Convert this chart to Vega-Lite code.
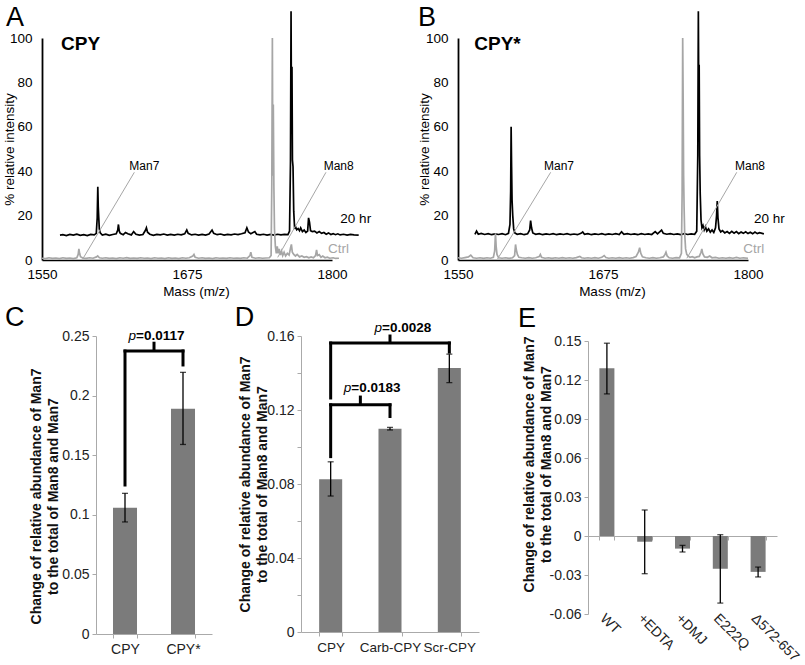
{
"$schema":"https://vega.github.io/schema/vega-lite/v6.json",
"background":"white",
"padding":{"left":2,"top":3,"right":5,"bottom":5},
"config":{"font":"Liberation Sans","view":{"stroke":null},"axis":{"grid":false,"labelOverlap":false,"labelFont":"Liberation Sans","titleFont":"Liberation Sans"},"text":{"font":"Liberation Sans"}},
"datasets":{
"one":[{}],
"specA":[
{"s":"20 hr","m":1565.5,"v":11.2},{"s":"20 hr","m":1568,"v":11.4},{"s":"20 hr","m":1571,"v":11.0},{"s":"20 hr","m":1574,"v":11.5},{"s":"20 hr","m":1577,"v":11.2},{"s":"20 hr","m":1580,"v":11.6},{"s":"20 hr","m":1583,"v":11.1},{"s":"20 hr","m":1586,"v":11.4},{"s":"20 hr","m":1589,"v":11.0},{"s":"20 hr","m":1592,"v":11.5},{"s":"20 hr","m":1595,"v":11.3},{"s":"20 hr","m":1596.8,"v":12.0},{"s":"20 hr","m":1597.6,"v":19.0},{"s":"20 hr","m":1598.1,"v":33.0},{"s":"20 hr","m":1598.5,"v":24.0},{"s":"20 hr","m":1598.9,"v":19.5},{"s":"20 hr","m":1599.4,"v":14.0},{"s":"20 hr","m":1600.2,"v":12.2},{"s":"20 hr","m":1602,"v":11.2},{"s":"20 hr","m":1605,"v":11.6},{"s":"20 hr","m":1608,"v":11.1},{"s":"20 hr","m":1611,"v":11.5},{"s":"20 hr","m":1614,"v":11.8},{"s":"20 hr","m":1615.3,"v":13.5},{"s":"20 hr","m":1615.9,"v":16.0},{"s":"20 hr","m":1616.6,"v":13.0},{"s":"20 hr","m":1617.5,"v":12.0},{"s":"20 hr","m":1620,"v":11.4},{"s":"20 hr","m":1622,"v":12.4},{"s":"20 hr","m":1624,"v":11.8},{"s":"20 hr","m":1627,"v":11.3},{"s":"20 hr","m":1629,"v":12.8},{"s":"20 hr","m":1631,"v":11.6},{"s":"20 hr","m":1634,"v":11.2},{"s":"20 hr","m":1637,"v":11.5},{"s":"20 hr","m":1639.3,"v":13.5},{"s":"20 hr","m":1640,"v":14.5},{"s":"20 hr","m":1641,"v":12.5},{"s":"20 hr","m":1643,"v":11.6},{"s":"20 hr","m":1646,"v":11.1},{"s":"20 hr","m":1649,"v":11.5},{"s":"20 hr","m":1652,"v":11.3},{"s":"20 hr","m":1655,"v":11.7},{"s":"20 hr","m":1658,"v":11.2},{"s":"20 hr","m":1661,"v":11.5},{"s":"20 hr","m":1664,"v":11.2},{"s":"20 hr","m":1667,"v":11.6},{"s":"20 hr","m":1670,"v":11.3},{"s":"20 hr","m":1673,"v":11.8},{"s":"20 hr","m":1674.8,"v":13.5},{"s":"20 hr","m":1676,"v":12.0},{"s":"20 hr","m":1679,"v":11.3},{"s":"20 hr","m":1682,"v":11.6},{"s":"20 hr","m":1685,"v":11.2},{"s":"20 hr","m":1688,"v":11.5},{"s":"20 hr","m":1691,"v":11.2},{"s":"20 hr","m":1694,"v":11.7},{"s":"20 hr","m":1696.6,"v":13.5},{"s":"20 hr","m":1698,"v":12.0},{"s":"20 hr","m":1701,"v":11.4},{"s":"20 hr","m":1704,"v":11.7},{"s":"20 hr","m":1707,"v":11.2},{"s":"20 hr","m":1710,"v":11.5},{"s":"20 hr","m":1713,"v":11.3},{"s":"20 hr","m":1716,"v":11.7},{"s":"20 hr","m":1719,"v":11.4},{"s":"20 hr","m":1722,"v":11.8},{"s":"20 hr","m":1725,"v":12.3},{"s":"20 hr","m":1726.6,"v":14.5},{"s":"20 hr","m":1728,"v":12.6},{"s":"20 hr","m":1730,"v":11.8},{"s":"20 hr","m":1733.5,"v":12.8},{"s":"20 hr","m":1735,"v":11.6},{"s":"20 hr","m":1738,"v":11.3},{"s":"20 hr","m":1741,"v":11.6},{"s":"20 hr","m":1744,"v":11.2},{"s":"20 hr","m":1747,"v":11.5},{"s":"20 hr","m":1750,"v":11.2},{"s":"20 hr","m":1753,"v":11.6},{"s":"20 hr","m":1756,"v":11.3},{"s":"20 hr","m":1759,"v":11.5},{"s":"20 hr","m":1762,"v":11.4},{"s":"20 hr","m":1763.4,"v":13.0},{"s":"20 hr","m":1764.2,"v":44.0},{"s":"20 hr","m":1764.7,"v":112.0},{"s":"20 hr","m":1765.1,"v":60.0},{"s":"20 hr","m":1765.5,"v":87.0},{"s":"20 hr","m":1765.9,"v":45.0},{"s":"20 hr","m":1766.4,"v":42.0},{"s":"20 hr","m":1767.0,"v":22.0},{"s":"20 hr","m":1767.8,"v":14.0},{"s":"20 hr","m":1768.6,"v":15.0},{"s":"20 hr","m":1769.6,"v":13.6},{"s":"20 hr","m":1770.8,"v":14.2},{"s":"20 hr","m":1772,"v":13.2},{"s":"20 hr","m":1773,"v":14.5},{"s":"20 hr","m":1774.5,"v":12.8},{"s":"20 hr","m":1776,"v":13.5},{"s":"20 hr","m":1777.5,"v":12.4},{"s":"20 hr","m":1779,"v":13.0},{"s":"20 hr","m":1779.8,"v":19.0},{"s":"20 hr","m":1780.6,"v":17.0},{"s":"20 hr","m":1781.5,"v":13.2},{"s":"20 hr","m":1783,"v":12.8},{"s":"20 hr","m":1785,"v":13.0},{"s":"20 hr","m":1787,"v":12.2},{"s":"20 hr","m":1789,"v":12.8},{"s":"20 hr","m":1791,"v":12.0},{"s":"20 hr","m":1793,"v":12.4},{"s":"20 hr","m":1795,"v":11.6},{"s":"20 hr","m":1797,"v":12.2},{"s":"20 hr","m":1799,"v":11.5},{"s":"20 hr","m":1801,"v":11.9},{"s":"20 hr","m":1803,"v":11.4},{"s":"20 hr","m":1805,"v":11.8},{"s":"20 hr","m":1807,"v":11.3},{"s":"20 hr","m":1810,"v":11.6},{"s":"20 hr","m":1813,"v":11.2},{"s":"20 hr","m":1816,"v":11.5},{"s":"20 hr","m":1819,"v":11.3},{"s":"20 hr","m":1823,"v":11.2},
{"s":"Ctrl","m":1550,"v":0.8},{"s":"Ctrl","m":1553,"v":0.6},{"s":"Ctrl","m":1556,"v":1.0},{"s":"Ctrl","m":1559,"v":0.7},{"s":"Ctrl","m":1562,"v":0.9},{"s":"Ctrl","m":1565,"v":0.6},{"s":"Ctrl","m":1568,"v":1.0},{"s":"Ctrl","m":1571,"v":0.7},{"s":"Ctrl","m":1574,"v":0.9},{"s":"Ctrl","m":1577,"v":0.6},{"s":"Ctrl","m":1580,"v":1.0},{"s":"Ctrl","m":1581.2,"v":2.5},{"s":"Ctrl","m":1581.8,"v":5.0},{"s":"Ctrl","m":1582.4,"v":3.0},{"s":"Ctrl","m":1583.2,"v":1.5},{"s":"Ctrl","m":1585,"v":0.9},{"s":"Ctrl","m":1588,"v":0.7},{"s":"Ctrl","m":1591,"v":1.0},{"s":"Ctrl","m":1594,"v":0.8},{"s":"Ctrl","m":1597,"v":1.4},{"s":"Ctrl","m":1598,"v":1.8},{"s":"Ctrl","m":1599.5,"v":1.0},{"s":"Ctrl","m":1602,"v":0.8},{"s":"Ctrl","m":1605,"v":1.0},{"s":"Ctrl","m":1608,"v":0.7},{"s":"Ctrl","m":1611,"v":0.9},{"s":"Ctrl","m":1614,"v":0.6},{"s":"Ctrl","m":1617,"v":1.0},{"s":"Ctrl","m":1620,"v":0.8},{"s":"Ctrl","m":1623,"v":1.1},{"s":"Ctrl","m":1626,"v":0.7},{"s":"Ctrl","m":1629,"v":0.9},{"s":"Ctrl","m":1632,"v":0.7},{"s":"Ctrl","m":1635,"v":1.0},{"s":"Ctrl","m":1638,"v":0.8},{"s":"Ctrl","m":1641,"v":0.9},{"s":"Ctrl","m":1644,"v":0.6},{"s":"Ctrl","m":1647,"v":1.0},{"s":"Ctrl","m":1650,"v":0.8},{"s":"Ctrl","m":1653,"v":0.9},{"s":"Ctrl","m":1656,"v":0.6},{"s":"Ctrl","m":1659,"v":1.0},{"s":"Ctrl","m":1662,"v":0.7},{"s":"Ctrl","m":1665,"v":0.9},{"s":"Ctrl","m":1668,"v":0.6},{"s":"Ctrl","m":1671,"v":1.0},{"s":"Ctrl","m":1674,"v":0.8},{"s":"Ctrl","m":1677,"v":1.0},{"s":"Ctrl","m":1680,"v":1.8},{"s":"Ctrl","m":1681,"v":2.5},{"s":"Ctrl","m":1682,"v":1.2},{"s":"Ctrl","m":1685,"v":0.8},{"s":"Ctrl","m":1688,"v":1.0},{"s":"Ctrl","m":1691,"v":0.7},{"s":"Ctrl","m":1694,"v":0.9},{"s":"Ctrl","m":1697,"v":0.6},{"s":"Ctrl","m":1700,"v":1.0},{"s":"Ctrl","m":1703,"v":0.8},{"s":"Ctrl","m":1706,"v":0.9},{"s":"Ctrl","m":1709,"v":0.7},{"s":"Ctrl","m":1712,"v":1.0},{"s":"Ctrl","m":1715,"v":0.8},{"s":"Ctrl","m":1718,"v":0.9},{"s":"Ctrl","m":1721,"v":0.7},{"s":"Ctrl","m":1724,"v":1.0},{"s":"Ctrl","m":1727,"v":0.8},{"s":"Ctrl","m":1729.3,"v":2.0},{"s":"Ctrl","m":1730,"v":3.5},{"s":"Ctrl","m":1731,"v":1.2},{"s":"Ctrl","m":1734,"v":0.8},{"s":"Ctrl","m":1737,"v":1.0},{"s":"Ctrl","m":1740,"v":0.8},{"s":"Ctrl","m":1743,"v":0.9},{"s":"Ctrl","m":1746,"v":1.0},{"s":"Ctrl","m":1747.5,"v":2.0},{"s":"Ctrl","m":1748.1,"v":34.0},{"s":"Ctrl","m":1748.6,"v":100.0},{"s":"Ctrl","m":1749.0,"v":38.0},{"s":"Ctrl","m":1749.4,"v":70.0},{"s":"Ctrl","m":1749.9,"v":33.0},{"s":"Ctrl","m":1750.4,"v":14.0},{"s":"Ctrl","m":1751.2,"v":6.0},{"s":"Ctrl","m":1752,"v":3.0},{"s":"Ctrl","m":1752.8,"v":6.2},{"s":"Ctrl","m":1753.6,"v":3.0},{"s":"Ctrl","m":1754.5,"v":5.0},{"s":"Ctrl","m":1755.5,"v":2.2},{"s":"Ctrl","m":1756.5,"v":4.0},{"s":"Ctrl","m":1757.5,"v":2.0},{"s":"Ctrl","m":1758.7,"v":3.5},{"s":"Ctrl","m":1760,"v":1.8},{"s":"Ctrl","m":1761.5,"v":3.0},{"s":"Ctrl","m":1763,"v":2.2},{"s":"Ctrl","m":1764.3,"v":5.5},{"s":"Ctrl","m":1765,"v":7.0},{"s":"Ctrl","m":1765.8,"v":3.5},{"s":"Ctrl","m":1767,"v":2.5},{"s":"Ctrl","m":1768.5,"v":1.8},{"s":"Ctrl","m":1770,"v":2.5},{"s":"Ctrl","m":1772,"v":1.4},{"s":"Ctrl","m":1774,"v":1.8},{"s":"Ctrl","m":1776,"v":1.2},{"s":"Ctrl","m":1778,"v":1.5},{"s":"Ctrl","m":1780,"v":1.0},{"s":"Ctrl","m":1782,"v":1.4},{"s":"Ctrl","m":1784,"v":1.0},{"s":"Ctrl","m":1785.8,"v":2.0},{"s":"Ctrl","m":1786.7,"v":4.5},{"s":"Ctrl","m":1787.5,"v":2.0},{"s":"Ctrl","m":1789,"v":2.4},{"s":"Ctrl","m":1790.5,"v":1.2},{"s":"Ctrl","m":1792,"v":1.8},{"s":"Ctrl","m":1794,"v":1.0},{"s":"Ctrl","m":1796,"v":1.3},{"s":"Ctrl","m":1798,"v":0.8},{"s":"Ctrl","m":1801,"v":1.0},{"s":"Ctrl","m":1803,"v":0.7},{"s":"Ctrl","m":1806,"v":0.8}
],
"specB":[
{"s":"20 hr","m":1564.6,"v":11.5},{"s":"20 hr","m":1566,"v":13.0},{"s":"20 hr","m":1567.5,"v":11.6},{"s":"20 hr","m":1570,"v":12.0},{"s":"20 hr","m":1573,"v":11.5},{"s":"20 hr","m":1576,"v":11.9},{"s":"20 hr","m":1579,"v":11.4},{"s":"20 hr","m":1582,"v":11.8},{"s":"20 hr","m":1585,"v":11.5},{"s":"20 hr","m":1588,"v":11.9},{"s":"20 hr","m":1591,"v":11.4},{"s":"20 hr","m":1593.5,"v":12.0},{"s":"20 hr","m":1594.8,"v":16.0},{"s":"20 hr","m":1595.4,"v":31.0},{"s":"20 hr","m":1595.8,"v":60.0},{"s":"20 hr","m":1596.2,"v":42.0},{"s":"20 hr","m":1596.6,"v":27.0},{"s":"20 hr","m":1597.2,"v":20.0},{"s":"20 hr","m":1598,"v":14.0},{"s":"20 hr","m":1599,"v":12.2},{"s":"20 hr","m":1601,"v":11.6},{"s":"20 hr","m":1604,"v":11.9},{"s":"20 hr","m":1607,"v":11.4},{"s":"20 hr","m":1610,"v":11.8},{"s":"20 hr","m":1611.8,"v":13.5},{"s":"20 hr","m":1612.6,"v":17.7},{"s":"20 hr","m":1613.4,"v":14.5},{"s":"20 hr","m":1614.5,"v":12.2},{"s":"20 hr","m":1617,"v":11.6},{"s":"20 hr","m":1620,"v":11.9},{"s":"20 hr","m":1623,"v":11.4},{"s":"20 hr","m":1626,"v":11.8},{"s":"20 hr","m":1629,"v":11.5},{"s":"20 hr","m":1632,"v":11.9},{"s":"20 hr","m":1635,"v":11.4},{"s":"20 hr","m":1638,"v":11.8},{"s":"20 hr","m":1641,"v":11.5},{"s":"20 hr","m":1644,"v":11.9},{"s":"20 hr","m":1647,"v":11.4},{"s":"20 hr","m":1650,"v":11.7},{"s":"20 hr","m":1653,"v":11.4},{"s":"20 hr","m":1656,"v":12.0},{"s":"20 hr","m":1657.5,"v":12.6},{"s":"20 hr","m":1659,"v":11.6},{"s":"20 hr","m":1662,"v":11.9},{"s":"20 hr","m":1665,"v":11.4},{"s":"20 hr","m":1668,"v":11.8},{"s":"20 hr","m":1671,"v":11.5},{"s":"20 hr","m":1674,"v":11.9},{"s":"20 hr","m":1677,"v":11.4},{"s":"20 hr","m":1680,"v":11.8},{"s":"20 hr","m":1683,"v":11.5},{"s":"20 hr","m":1686,"v":11.9},{"s":"20 hr","m":1689,"v":11.5},{"s":"20 hr","m":1691,"v":12.7},{"s":"20 hr","m":1693,"v":11.6},{"s":"20 hr","m":1696,"v":11.9},{"s":"20 hr","m":1699,"v":11.5},{"s":"20 hr","m":1702,"v":11.8},{"s":"20 hr","m":1705,"v":11.4},{"s":"20 hr","m":1708,"v":11.9},{"s":"20 hr","m":1711,"v":11.5},{"s":"20 hr","m":1714,"v":11.8},{"s":"20 hr","m":1717,"v":11.5},{"s":"20 hr","m":1720,"v":12.8},{"s":"20 hr","m":1722,"v":11.8},{"s":"20 hr","m":1725.5,"v":13.5},{"s":"20 hr","m":1727,"v":12.0},{"s":"20 hr","m":1730,"v":11.6},{"s":"20 hr","m":1733,"v":11.9},{"s":"20 hr","m":1736,"v":11.5},{"s":"20 hr","m":1739,"v":11.8},{"s":"20 hr","m":1742,"v":11.4},{"s":"20 hr","m":1745,"v":11.9},{"s":"20 hr","m":1748,"v":11.5},{"s":"20 hr","m":1751,"v":11.8},{"s":"20 hr","m":1754,"v":11.6},{"s":"20 hr","m":1755.8,"v":13.0},{"s":"20 hr","m":1756.7,"v":47.0},{"s":"20 hr","m":1757.2,"v":112.0},{"s":"20 hr","m":1757.6,"v":70.0},{"s":"20 hr","m":1757.9,"v":88.0},{"s":"20 hr","m":1758.3,"v":47.0},{"s":"20 hr","m":1758.8,"v":30.0},{"s":"20 hr","m":1759.5,"v":18.0},{"s":"20 hr","m":1760.3,"v":14.5},{"s":"20 hr","m":1761.2,"v":15.5},{"s":"20 hr","m":1762.2,"v":13.5},{"s":"20 hr","m":1763.3,"v":15.0},{"s":"20 hr","m":1764.5,"v":13.0},{"s":"20 hr","m":1766,"v":14.0},{"s":"20 hr","m":1767.5,"v":12.5},{"s":"20 hr","m":1769,"v":13.5},{"s":"20 hr","m":1770.5,"v":12.4},{"s":"20 hr","m":1772,"v":14.5},{"s":"20 hr","m":1772.9,"v":20.0},{"s":"20 hr","m":1773.5,"v":26.6},{"s":"20 hr","m":1774.1,"v":19.0},{"s":"20 hr","m":1775,"v":14.0},{"s":"20 hr","m":1776.5,"v":12.6},{"s":"20 hr","m":1778,"v":13.2},{"s":"20 hr","m":1780,"v":12.2},{"s":"20 hr","m":1782,"v":12.8},{"s":"20 hr","m":1784,"v":12.0},{"s":"20 hr","m":1786,"v":12.9},{"s":"20 hr","m":1788,"v":12.1},{"s":"20 hr","m":1790,"v":12.8},{"s":"20 hr","m":1792,"v":11.9},{"s":"20 hr","m":1794,"v":12.6},{"s":"20 hr","m":1796,"v":12.0},{"s":"20 hr","m":1798,"v":12.7},{"s":"20 hr","m":1800,"v":11.9},{"s":"20 hr","m":1802,"v":12.5},{"s":"20 hr","m":1804,"v":11.8},{"s":"20 hr","m":1806,"v":12.6},{"s":"20 hr","m":1808,"v":11.9},{"s":"20 hr","m":1810,"v":12.3},{"s":"20 hr","m":1813.7,"v":11.8},
{"s":"Ctrl","m":1550,"v":1.0},{"s":"Ctrl","m":1553,"v":0.8},{"s":"Ctrl","m":1556,"v":1.1},{"s":"Ctrl","m":1559,"v":1.4},{"s":"Ctrl","m":1561,"v":2.2},{"s":"Ctrl","m":1563,"v":1.0},{"s":"Ctrl","m":1566,"v":0.8},{"s":"Ctrl","m":1569,"v":1.0},{"s":"Ctrl","m":1572,"v":0.7},{"s":"Ctrl","m":1575,"v":1.0},{"s":"Ctrl","m":1578,"v":0.8},{"s":"Ctrl","m":1580.5,"v":1.2},{"s":"Ctrl","m":1581.6,"v":4.0},{"s":"Ctrl","m":1582.3,"v":12.0},{"s":"Ctrl","m":1582.9,"v":6.0},{"s":"Ctrl","m":1583.6,"v":2.5},{"s":"Ctrl","m":1585,"v":1.0},{"s":"Ctrl","m":1588,"v":0.8},{"s":"Ctrl","m":1591,"v":1.0},{"s":"Ctrl","m":1594,"v":0.7},{"s":"Ctrl","m":1597,"v":1.0},{"s":"Ctrl","m":1598.8,"v":2.0},{"s":"Ctrl","m":1599.6,"v":7.0},{"s":"Ctrl","m":1600.3,"v":4.5},{"s":"Ctrl","m":1601.2,"v":2.5},{"s":"Ctrl","m":1602.5,"v":1.2},{"s":"Ctrl","m":1605,"v":1.0},{"s":"Ctrl","m":1608,"v":0.8},{"s":"Ctrl","m":1611,"v":1.1},{"s":"Ctrl","m":1614,"v":0.8},{"s":"Ctrl","m":1617,"v":1.0},{"s":"Ctrl","m":1620,"v":1.5},{"s":"Ctrl","m":1621,"v":2.5},{"s":"Ctrl","m":1622,"v":1.2},{"s":"Ctrl","m":1625,"v":0.8},{"s":"Ctrl","m":1628,"v":1.0},{"s":"Ctrl","m":1631,"v":0.7},{"s":"Ctrl","m":1634,"v":1.0},{"s":"Ctrl","m":1637,"v":0.8},{"s":"Ctrl","m":1640,"v":1.1},{"s":"Ctrl","m":1643,"v":0.8},{"s":"Ctrl","m":1646,"v":1.0},{"s":"Ctrl","m":1649,"v":0.8},{"s":"Ctrl","m":1652,"v":1.1},{"s":"Ctrl","m":1655,"v":1.6},{"s":"Ctrl","m":1656.5,"v":1.0},{"s":"Ctrl","m":1659,"v":0.8},{"s":"Ctrl","m":1662,"v":1.0},{"s":"Ctrl","m":1665,"v":0.8},{"s":"Ctrl","m":1668,"v":1.1},{"s":"Ctrl","m":1671,"v":0.8},{"s":"Ctrl","m":1674,"v":1.2},{"s":"Ctrl","m":1676,"v":2.0},{"s":"Ctrl","m":1677.5,"v":1.1},{"s":"Ctrl","m":1680,"v":0.8},{"s":"Ctrl","m":1683,"v":1.0},{"s":"Ctrl","m":1686,"v":0.8},{"s":"Ctrl","m":1689,"v":1.1},{"s":"Ctrl","m":1692,"v":0.8},{"s":"Ctrl","m":1695,"v":1.0},{"s":"Ctrl","m":1698,"v":0.8},{"s":"Ctrl","m":1701,"v":1.1},{"s":"Ctrl","m":1703.5,"v":1.6},{"s":"Ctrl","m":1705.5,"v":3.5},{"s":"Ctrl","m":1706.6,"v":5.5},{"s":"Ctrl","m":1707.6,"v":3.0},{"s":"Ctrl","m":1709,"v":1.4},{"s":"Ctrl","m":1712,"v":1.0},{"s":"Ctrl","m":1715,"v":0.8},{"s":"Ctrl","m":1718,"v":1.1},{"s":"Ctrl","m":1721,"v":0.8},{"s":"Ctrl","m":1724,"v":1.0},{"s":"Ctrl","m":1727,"v":1.4},{"s":"Ctrl","m":1728.5,"v":2.5},{"s":"Ctrl","m":1729.3,"v":3.5},{"s":"Ctrl","m":1730.3,"v":1.8},{"s":"Ctrl","m":1732,"v":1.0},{"s":"Ctrl","m":1735,"v":0.8},{"s":"Ctrl","m":1738,"v":1.1},{"s":"Ctrl","m":1741,"v":1.0},{"s":"Ctrl","m":1742.6,"v":3.0},{"s":"Ctrl","m":1743.2,"v":30.0},{"s":"Ctrl","m":1743.7,"v":100.0},{"s":"Ctrl","m":1744.1,"v":73.0},{"s":"Ctrl","m":1744.5,"v":38.0},{"s":"Ctrl","m":1744.9,"v":24.0},{"s":"Ctrl","m":1745.4,"v":12.0},{"s":"Ctrl","m":1746.2,"v":5.0},{"s":"Ctrl","m":1747.2,"v":2.5},{"s":"Ctrl","m":1748.5,"v":1.8},{"s":"Ctrl","m":1750,"v":1.2},{"s":"Ctrl","m":1752,"v":1.5},{"s":"Ctrl","m":1754,"v":1.0},{"s":"Ctrl","m":1756,"v":1.4},{"s":"Ctrl","m":1758,"v":1.6},{"s":"Ctrl","m":1759.5,"v":3.5},{"s":"Ctrl","m":1760.2,"v":5.0},{"s":"Ctrl","m":1761,"v":2.8},{"s":"Ctrl","m":1762.5,"v":1.4},{"s":"Ctrl","m":1765,"v":1.2},{"s":"Ctrl","m":1767,"v":1.8},{"s":"Ctrl","m":1769,"v":1.0},{"s":"Ctrl","m":1772,"v":1.2},{"s":"Ctrl","m":1775,"v":0.8},{"s":"Ctrl","m":1778,"v":1.0},{"s":"Ctrl","m":1781,"v":0.8},{"s":"Ctrl","m":1784,"v":1.1},{"s":"Ctrl","m":1787,"v":0.8},{"s":"Ctrl","m":1790,"v":1.2},{"s":"Ctrl","m":1793,"v":0.8},{"s":"Ctrl","m":1796,"v":1.0},{"s":"Ctrl","m":1800,"v":0.8}
],
"barC":[{"g":"CPY","v":0.106,"lo":0.094,"hi":0.118},{"g":"CPY*","v":0.189,"lo":0.159,"hi":0.2195}],
"barD":[{"g":"CPY","v":0.0826,"lo":0.0735,"hi":0.092},{"g":"Carb-CPY","v":0.1099,"lo":0.1092,"hi":0.1106},{"g":"Scr-CPY","v":0.1427,"lo":0.1348,"hi":0.1502}],
"barE":[{"g":"WT","v":0.129,"lo":0.1093,"hi":0.1483},{"g":"+EDTA","v":-0.0044,"lo":-0.029,"hi":0.02},{"g":"+DMJ","v":-0.0097,"lo":-0.0123,"hi":-0.0072},{"g":"E222Q","v":-0.0252,"lo":-0.0516,"hi":0.001},{"g":"Δ572-657","v":-0.0276,"lo":-0.0315,"hi":-0.0239}]
},
"spacing":5,
"vconcat":[
{"hconcat":[
{"width":290,"height":222,
"layer":[
{"data":{"name":"specA"},"mark":{"type":"line","strokeWidth":1.7},
"encoding":{
"x":{"field":"m","type":"quantitative","scale":{"domain":[1550,1800],"nice":false,"zero":false},"axis":{"values":[1550,1675,1800],"format":"d","title":"Mass (m/z)","titleFontSize":13.5,"titleFontWeight":"normal","titleColor":"#000","titleX":154,"titleY":31,"titleBaseline":"middle","labelPadding":7,"ticks":false,"domainColor":"#000","domainWidth":1.6,"labelFontSize":13.5,"labelColor":"#000","labelFlush":false,"labelOverlap":false}},
"y":{"field":"v","type":"quantitative","scale":{"domain":[0,100],"nice":false},"axis":{"values":[0,20,40,60,80,100],"tickCount":20,"title":"% relative intensity","titleFontSize":13.5,"titleFontWeight":"normal","titleColor":"#000","titleX":-33,"titleY":111,"titleBaseline":"middle","ticks":false,"labelPadding":10,"domainColor":"#000","domainWidth":1.8,"labelFontSize":13.5,"labelColor":"#000","labelOverlap":false}},
"color":{"field":"s","type":"nominal","scale":{"domain":["Ctrl","20 hr"],"range":["#a6a6a6","#000000"]},"legend":null}}},
{"data":{"values":[{"x1":1629.6,"y1":39.5,"x2":1585.1,"y2":0.45},{"x1":1794.8,"y1":39.5,"x2":1753.2,"y2":1.2}]},"mark":{"type":"rule","color":"#a6a6a6","strokeWidth":1},
"encoding":{"x":{"field":"x1","type":"quantitative"},"y":{"field":"y1","type":"quantitative"},"x2":{"field":"x2"},"y2":{"field":"y2"}}},
{"data":{"values":[{"t":"Man7","m":1625.3,"v":40.5},{"t":"Man8","m":1792.8,"v":40.5}]},"mark":{"type":"text","align":"left","baseline":"alphabetic","fontSize":12,"color":"#000"},
"encoding":{"x":{"field":"m","type":"quantitative"},"y":{"field":"v","type":"quantitative"},"text":{"field":"t"}}},
{"data":{"name":"one"},"mark":{"type":"text","align":"left","baseline":"alphabetic","fontSize":13.5,"color":"#000"},"encoding":{"x":{"datum":1807.2},"y":{"datum":16.7},"text":{"value":"20 hr"}}},
{"data":{"name":"one"},"mark":{"type":"text","align":"left","baseline":"alphabetic","fontSize":13.5,"color":"#a6a6a6"},"encoding":{"x":{"datum":1796.5},"y":{"datum":3.2},"text":{"value":"Ctrl"}}},
{"data":{"name":"one"},"mark":{"type":"text","align":"left","baseline":"alphabetic","fontSize":19,"fontWeight":"bold","color":"#000"},"encoding":{"x":{"datum":1566.4},"y":{"datum":94.7},"text":{"value":"CPY"}}},
{"data":{"name":"one"},"mark":{"type":"text","align":"left","baseline":"alphabetic","fontSize":27,"color":"#000"},"encoding":{"x":{"datum":1519},"y":{"datum":105.5},"text":{"value":"A"}}}
]},
{"width":290,"height":222,
"layer":[
{"data":{"name":"specB"},"mark":{"type":"line","strokeWidth":1.7},
"encoding":{
"x":{"field":"m","type":"quantitative","scale":{"domain":[1550,1800],"nice":false,"zero":false},"axis":{"values":[1550,1675,1800],"format":"d","title":"Mass (m/z)","titleFontSize":13.5,"titleFontWeight":"normal","titleColor":"#000","titleX":154,"titleY":31,"titleBaseline":"middle","labelPadding":7,"ticks":false,"domainColor":"#000","domainWidth":1.6,"labelFontSize":13.5,"labelColor":"#000","labelFlush":false,"labelOverlap":false}},
"y":{"field":"v","type":"quantitative","scale":{"domain":[0,100],"nice":false},"axis":{"values":[0,20,40,60,80,100],"tickCount":20,"title":"% relative intensity","titleFontSize":13.5,"titleFontWeight":"normal","titleColor":"#000","titleX":-34,"titleY":111,"titleBaseline":"middle","ticks":false,"labelPadding":10,"domainColor":"#000","domainWidth":1.8,"labelFontSize":13.5,"labelColor":"#000","labelOverlap":false}},
"color":{"field":"s","type":"nominal","scale":{"domain":["Ctrl","20 hr"],"range":["#a6a6a6","#000000"]},"legend":null}}},
{"data":{"values":[{"x1":1629.9,"y1":39.5,"x2":1584.1,"y2":0.45},{"x1":1790.3,"y1":39.5,"x2":1747.3,"y2":0.8}]},"mark":{"type":"rule","color":"#a6a6a6","strokeWidth":1},
"encoding":{"x":{"field":"x1","type":"quantitative"},"y":{"field":"y1","type":"quantitative"},"x2":{"field":"x2"},"y2":{"field":"y2"}}},
{"data":{"values":[{"t":"Man7","m":1624.1,"v":40.5},{"t":"Man8","m":1788.8,"v":40.5}]},"mark":{"type":"text","align":"left","baseline":"alphabetic","fontSize":12,"color":"#000"},
"encoding":{"x":{"field":"m","type":"quantitative"},"y":{"field":"v","type":"quantitative"},"text":{"field":"t"}}},
{"data":{"name":"one"},"mark":{"type":"text","align":"left","baseline":"alphabetic","fontSize":13.5,"color":"#000"},"encoding":{"x":{"datum":1805.2},"y":{"datum":16.7},"text":{"value":"20 hr"}}},
{"data":{"name":"one"},"mark":{"type":"text","align":"left","baseline":"alphabetic","fontSize":13.5,"color":"#a6a6a6"},"encoding":{"x":{"datum":1796},"y":{"datum":3.2},"text":{"value":"Ctrl"}}},
{"data":{"name":"one"},"mark":{"type":"text","align":"left","baseline":"alphabetic","fontSize":19,"fontWeight":"bold","color":"#000"},"encoding":{"x":{"datum":1564},"y":{"datum":94.7},"text":{"value":"CPY*"}}},
{"data":{"name":"one"},"mark":{"type":"text","align":"left","baseline":"alphabetic","fontSize":27,"color":"#000"},"encoding":{"x":{"datum":1515.6},"y":{"datum":105.5},"text":{"value":"B"}}}
]}
],"spacing":126,"bounds":"flush"},
{"hconcat":[
{"width":170,"height":298,"data":{"name":"barC"},
"layer":[
{"mark":{"type":"bar","color":"#7b7b7b"},
"encoding":{
"x":{"field":"g","type":"nominal","scale":{"domain":["CPY","CPY*"],"range":[54,170],"paddingInner":0.586,"paddingOuter":0.293},"axis":{"title":null,"tickBand":"extent","labelAngle":0,"domainColor":"#aaaaaa","tickColor":"#aaaaaa","tickSize":4,"labelPadding":4,"labelFontSize":14,"labelColor":"#222","labelOverlap":false}},
"y":{"field":"v","type":"quantitative","scale":{"domain":[0,0.25],"nice":false},"axis":{"offset":-54,"values":[0,0.05,0.1,0.15,0.2,0.25],"tickCount":20,"labelExpr":"''+datum.value","labelOverlap":false,"title":["Change of relative abundance of Man7","to the total of Man8 and Man7"],"titleFontSize":14,"titleFontWeight":"bold","titleColor":"#111","titleLineHeight":17,"titleBaseline":"middle","titleX":-60,"titleY":160,"domainColor":"#aaaaaa","tickColor":"#aaaaaa","tickSize":4,"labelPadding":3,"labelFontSize":14,"labelColor":"#222"}}}},
{"mark":{"type":"rule","color":"#000","strokeWidth":1.3},"encoding":{"x":{"field":"g","type":"nominal"},"y":{"field":"lo","type":"quantitative"},"y2":{"field":"hi"}}},
{"mark":{"type":"tick","color":"#000","thickness":1.3,"size":6},"encoding":{"x":{"field":"g","type":"nominal"},"y":{"field":"lo","type":"quantitative"}}},
{"mark":{"type":"tick","color":"#000","thickness":1.3,"size":6},"encoding":{"x":{"field":"g","type":"nominal"},"y":{"field":"hi","type":"quantitative"}}},
{"data":{"name":"one"},"mark":{"type":"rule","color":"#000","strokeWidth":3,"strokeCap":"square"},"encoding":{"x":{"datum":"CPY"},"x2":{"datum":"CPY*"},"y":{"datum":0.2374}}},
{"data":{"name":"one"},"mark":{"type":"rule","color":"#000","strokeWidth":3,"strokeCap":"square"},"encoding":{"x":{"datum":"CPY"},"y":{"datum":0.125},"y2":{"datum":0.2374}}},
{"data":{"name":"one"},"mark":{"type":"rule","color":"#000","strokeWidth":3,"strokeCap":"square"},"encoding":{"x":{"datum":"CPY*"},"y":{"datum":0.2257},"y2":{"datum":0.2374}}},
{"data":{"name":"one"},"mark":{"type":"rule","color":"#000","strokeWidth":3},"encoding":{"x":{"datum":"CPY","bandPosition":1.708},"y":{"datum":0.2374},"y2":{"datum":0.2452}}},
{"data":{"name":"one"},"mark":{"type":"text","align":"right","baseline":"alphabetic","fontSize":13.5,"fontStyle":"italic","dx":-18,"color":"#000"},"encoding":{"x":{"datum":"CPY","bandPosition":1.708},"y":{"datum":0.2466},"text":{"value":"p"}}},
{"data":{"name":"one"},"mark":{"type":"text","align":"left","baseline":"alphabetic","fontSize":13.5,"fontWeight":"bold","dx":-18,"color":"#000"},"encoding":{"x":{"datum":"CPY","bandPosition":1.708},"y":{"datum":0.2466},"text":{"value":"=0.0117"}}},
{"data":{"name":"one"},"mark":{"type":"text","align":"left","baseline":"alphabetic","fontSize":27,"dx":-120,"color":"#000"},"encoding":{"x":{"datum":"CPY"},"y":{"datum":0.2585},"text":{"value":"C"}}}
]},
{"width":198,"height":296,"data":{"name":"barD"},
"layer":[
{"mark":{"type":"bar","color":"#7b7b7b"},
"encoding":{
"x":{"field":"g","type":"nominal","scale":{"domain":["CPY","Carb-CPY","Scr-CPY"],"range":[0,178],"paddingInner":0.612,"paddingOuter":0.306},"axis":{"title":null,"tickBand":"extent","labelAngle":0,"domainColor":"#aaaaaa","tickColor":"#aaaaaa","tickSize":4,"labelPadding":4,"labelFontSize":13.5,"labelColor":"#222","labelOverlap":false}},
"y":{"field":"v","type":"quantitative","scale":{"domain":[0,0.16],"nice":false},"axis":{"values":[0,0.02,0.04,0.06,0.08,0.1,0.12,0.14,0.16],"tickCount":20,"labelExpr":"(round(datum.value*100) % 4 == 0) ? ''+datum.value : ''","labelOverlap":false,"title":["Change of relative abundance of Man7","to the total of Man8 and Man7"],"titleFontSize":14,"titleFontWeight":"bold","titleColor":"#111","titleLineHeight":17,"titleBaseline":"middle","titleX":-56,"titleY":148,"domainColor":"#aaaaaa","tickColor":"#aaaaaa","tickSize":4,"labelPadding":3,"labelFontSize":14,"labelColor":"#222"}}}},
{"mark":{"type":"rule","color":"#000","strokeWidth":1.3},"encoding":{"x":{"field":"g","type":"nominal"},"y":{"field":"lo","type":"quantitative"},"y2":{"field":"hi"}}},
{"mark":{"type":"tick","color":"#000","thickness":1.3,"size":6},"encoding":{"x":{"field":"g","type":"nominal"},"y":{"field":"lo","type":"quantitative"}}},
{"mark":{"type":"tick","color":"#000","thickness":1.3,"size":6},"encoding":{"x":{"field":"g","type":"nominal"},"y":{"field":"hi","type":"quantitative"}}},
{"data":{"name":"one"},"mark":{"type":"rule","color":"#000","strokeWidth":3,"strokeCap":"square"},"encoding":{"x":{"datum":"CPY"},"x2":{"datum":"Scr-CPY"},"y":{"datum":0.1562}}},
{"data":{"name":"one"},"mark":{"type":"rule","color":"#000","strokeWidth":3,"strokeCap":"square"},"encoding":{"x":{"datum":"CPY"},"y":{"datum":0.1265},"y2":{"datum":0.1562}}},
{"data":{"name":"one"},"mark":{"type":"rule","color":"#000","strokeWidth":3,"strokeCap":"square"},"encoding":{"x":{"datum":"Scr-CPY"},"y":{"datum":0.1513},"y2":{"datum":0.1562}}},
{"data":{"name":"one"},"mark":{"type":"rule","color":"#000","strokeWidth":3},"encoding":{"x":{"datum":"Carb-CPY"},"y":{"datum":0.1562},"y2":{"datum":0.1608}}},
{"data":{"name":"one"},"mark":{"type":"text","align":"right","baseline":"alphabetic","fontSize":13.5,"fontStyle":"italic","dx":-8,"color":"#000"},"encoding":{"x":{"datum":"Carb-CPY"},"y":{"datum":0.1623},"text":{"value":"p"}}},
{"data":{"name":"one"},"mark":{"type":"text","align":"left","baseline":"alphabetic","fontSize":13.5,"fontWeight":"bold","dx":-8,"color":"#000"},"encoding":{"x":{"datum":"Carb-CPY"},"y":{"datum":0.1623},"text":{"value":"=0.0028"}}},
{"data":{"name":"one"},"mark":{"type":"rule","color":"#000","strokeWidth":3,"strokeCap":"square"},"encoding":{"x":{"datum":"CPY"},"x2":{"datum":"Carb-CPY"},"y":{"datum":0.1228}}},
{"data":{"name":"one"},"mark":{"type":"rule","color":"#000","strokeWidth":3,"strokeCap":"square"},"encoding":{"x":{"datum":"CPY"},"y":{"datum":0.0948},"y2":{"datum":0.1228}}},
{"data":{"name":"one"},"mark":{"type":"rule","color":"#000","strokeWidth":3,"strokeCap":"square"},"encoding":{"x":{"datum":"Carb-CPY"},"y":{"datum":0.1165},"y2":{"datum":0.1228}}},
{"data":{"name":"one"},"mark":{"type":"rule","color":"#000","strokeWidth":3},"encoding":{"x":{"datum":"CPY","bandPosition":1.79},"y":{"datum":0.1228},"y2":{"datum":0.1278}}},
{"data":{"name":"one"},"mark":{"type":"text","align":"right","baseline":"alphabetic","fontSize":13.5,"fontStyle":"italic","dx":-9,"color":"#000"},"encoding":{"x":{"datum":"CPY","bandPosition":1.79},"y":{"datum":0.1295},"text":{"value":"p"}}},
{"data":{"name":"one"},"mark":{"type":"text","align":"left","baseline":"alphabetic","fontSize":13.5,"fontWeight":"bold","dx":-9,"color":"#000"},"encoding":{"x":{"datum":"CPY","bandPosition":1.79},"y":{"datum":0.1295},"text":{"value":"=0.0183"}}},
{"data":{"name":"one"},"mark":{"type":"text","align":"left","baseline":"alphabetic","fontSize":27,"dx":-96,"color":"#000"},"encoding":{"x":{"datum":"CPY"},"y":{"datum":0.1655},"text":{"value":"D"}}}
]},
{"width":189,"height":278,"data":{"name":"barE"},
"layer":[
{"mark":{"type":"bar","color":"#7b7b7b"},
"encoding":{
"x":{"field":"g","type":"nominal","scale":{"domain":["WT","+EDTA","+DMJ","E222Q","Δ572-657"],"paddingInner":0.603,"paddingOuter":0.3015},"axis":{"title":null,"tickBand":"extent","offset":-78,"labelAngle":45,"labelAlign":"left","labelBaseline":"top","labelPadding":71,"domainColor":"#aaaaaa","tickColor":"#aaaaaa","tickSize":4,"labelFontSize":14,"labelColor":"#222","labelOverlap":false}},
"y":{"field":"v","type":"quantitative","scale":{"domain":[-0.06,0.15],"range":[278,5],"nice":false,"zero":false},"axis":{"values":[-0.06,-0.03,0,0.03,0.06,0.09,0.12,0.15],"tickCount":20,"labelExpr":"''+datum.value","labelOverlap":false,"title":["Change of relative abundance of Man7","to the total of Man8 and Man7"],"titleFontSize":14,"titleFontWeight":"bold","titleColor":"#111","titleLineHeight":17,"titleBaseline":"middle","titleX":-59,"titleY":128,"domainColor":"#aaaaaa","tickColor":"#aaaaaa","tickSize":4,"labelPadding":3,"labelFontSize":14,"labelColor":"#222"}}}},
{"mark":{"type":"rule","color":"#000","strokeWidth":1.3},"encoding":{"x":{"field":"g","type":"nominal"},"y":{"field":"lo","type":"quantitative"},"y2":{"field":"hi"}}},
{"mark":{"type":"tick","color":"#000","thickness":1.3,"size":6},"encoding":{"x":{"field":"g","type":"nominal"},"y":{"field":"lo","type":"quantitative"}}},
{"mark":{"type":"tick","color":"#000","thickness":1.3,"size":6},"encoding":{"x":{"field":"g","type":"nominal"},"y":{"field":"hi","type":"quantitative"}}},
{"data":{"name":"one"},"mark":{"type":"text","align":"left","baseline":"alphabetic","fontSize":27,"dx":-89,"color":"#000"},"encoding":{"x":{"datum":"WT"},"y":{"datum":0.1607},"text":{"value":"E"}}}
]}
],"spacing":89,"bounds":"flush"}
]
}
